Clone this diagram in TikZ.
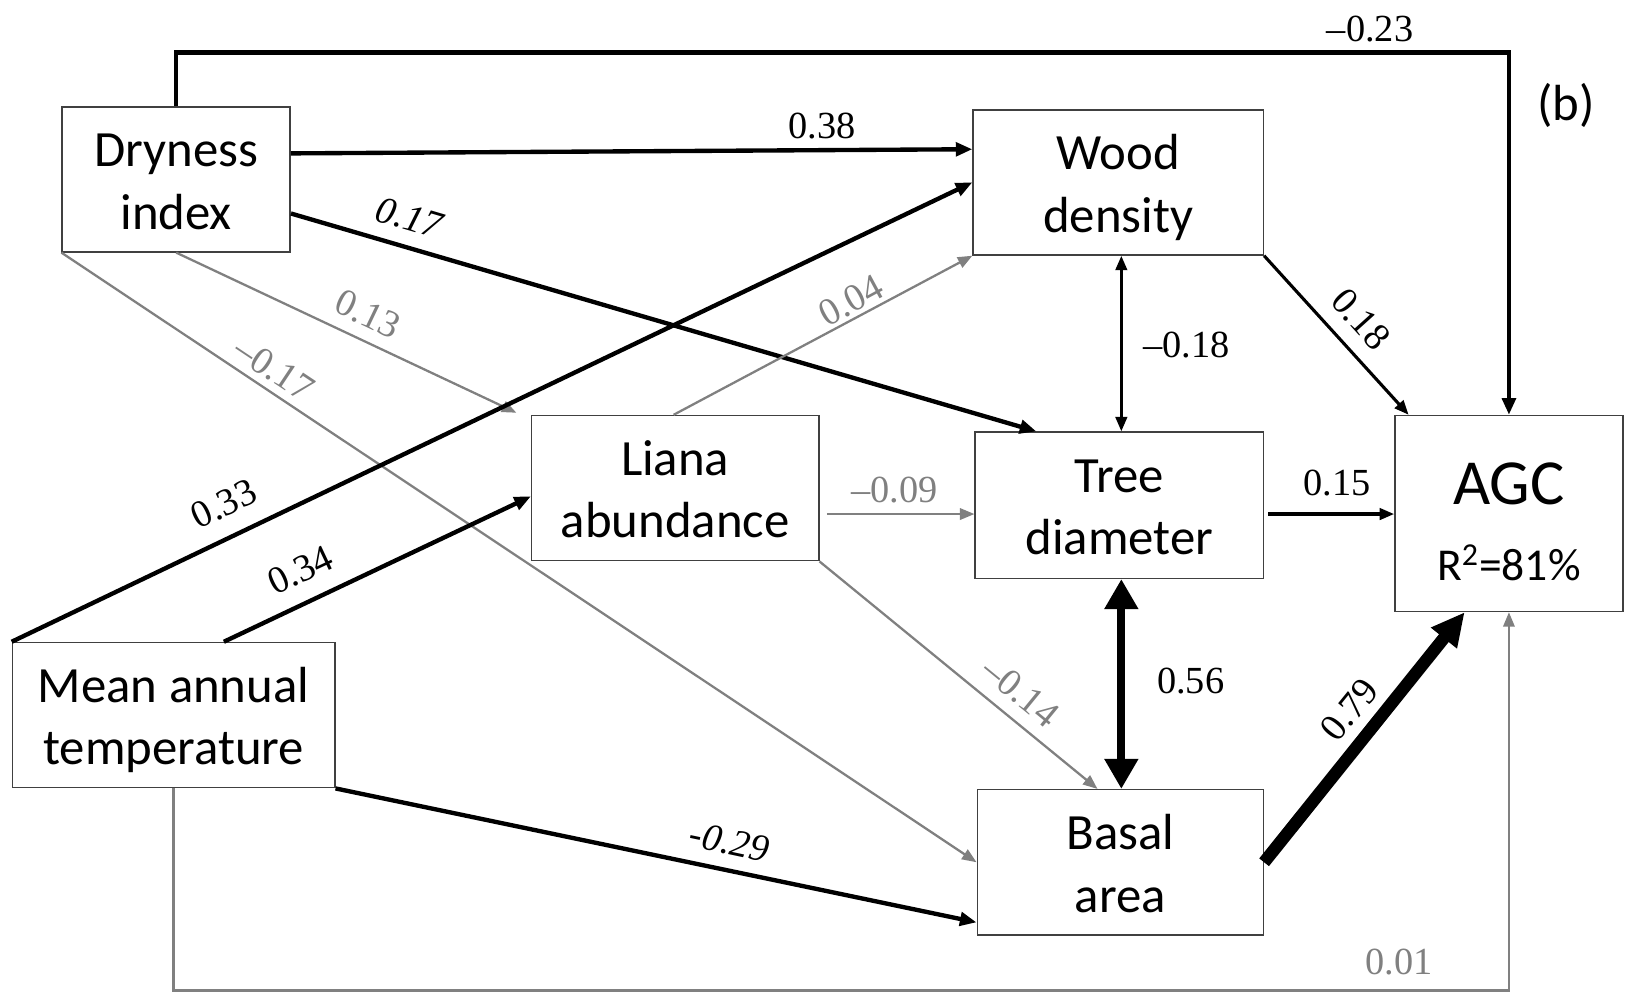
\documentclass[tikz,border=0pt]{standalone}
\usepackage{fontspec}
\setmainfont{Liberation Serif}
\newfontfamily\boxfont{Carlito}
\usetikzlibrary{arrows.meta,calc}
\newcommand\mystrut{\rule[-6pt]{0pt}{30pt}}
\definecolor{lgray}{HTML}{808080}
\definecolor{bgray}{HTML}{404040}
\begin{document}
\begin{tikzpicture}[x=0.5pt,y=-0.5pt,
 box/.style={draw=bgray,line width=0.75pt,fill=white,inner sep=0pt,align=center,font=\boxfont\fontsize{24.5}{30}\selectfont},
 thk/.style={line width=2.1pt,-{Triangle[length=8pt,width=6.5pt]}},
 med/.style={line width=1.5pt,-{Triangle[length=7pt,width=5.5pt]}},
 gry/.style={draw=lgray,line width=1.1pt,-{Triangle[length=7pt,width=5.5pt,fill=lgray]}},
 lab/.style={font=\fontsize{18.5}{20}\selectfont,inner sep=0pt},
 glab/.style={lab,text=lgray},
 ilab/.style={lab,font=\fontsize{18.5}{20}\selectfont\itshape},
]
\useasboundingbox (0,0) rectangle (1568,959);

% boxes
\node[box,minimum width=110pt,minimum height=70pt] (dry) at (170,173) {\mystrut Dryness\\\mystrut index};
\node[box,minimum width=140pt,minimum height=70pt] (wood) at (1079,176) {\mystrut Wood\\\mystrut density};
\node[box,minimum width=138.5pt,minimum height=70pt] (liana) at (651.5,471) {\mystrut Liana\\\mystrut abundance};
\node[box,minimum width=139pt,minimum height=70.5pt] (tree) at (1080,487.5) {\mystrut Tree\\\mystrut diameter};
\node[box,minimum width=110pt,minimum height=94.5pt] (agc) at (1456,495.5) {};
\node[inner sep=0pt,font=\boxfont\fontsize{31}{36}\selectfont] (agct) at (1456,467) {AGC};
\node[inner sep=0pt,font=\boxfont\fontsize{22}{26}\selectfont] (agcr) at (1456,543) {R\textsuperscript{2}=81\%};
\node[box,minimum width=155.5pt,minimum height=70pt] (mat) at (167.5,690) {\mystrut Mean annual\\\mystrut temperature};
\node[box,minimum width=138pt,minimum height=70pt] (basal) at (1081,832) {\mystrut Basal\\\mystrut area};
\node[inner sep=0pt,font=\boxfont\fontsize{24.5}{30}\selectfont] (b) at (1511,102) {(b)};

% connectors
\draw[thk] (dry.north) -- ++(0,-51.5) -| (agc.north);
\draw[thk] ($(dry.east)+(0,-25)$) -- ($(wood.west)+(0,-32)$);
\draw[thk] ($(dry.east)+(0,33)$) -- ($(tree.north)+(-80,0)$);
\draw[gry] (dry.south) -- ($(liana.north west)+(-14,-2)$);
\draw[gry] (dry.south west) -- (basal.west);
\draw[thk] (mat.north west) -- (wood.west);
\draw[thk] ($(mat.north)+(48.5,0)$) -- ($(liana.west)+(0,8)$);
\draw[gry] ($(liana.north)+(-1.5,0)$) -- (wood.south west);
\draw[gry] ($(liana.east)+(7,25)$) -- ($(tree.west)+(0,8.5)$);
\draw[gry] (liana.south east) -- ($(basal.north)+(-22,0)$);
\draw[line width=1.5pt,{Triangle[length=7pt,width=5.5pt]}-{Triangle[length=7pt,width=5.5pt]}] ($(wood.south)+(3,0)$) -- ($(tree.north)+(2,0)$);
\draw[line width=4pt,{Triangle[length=14.5pt,width=15.5pt]}-{Triangle[length=14.5pt,width=15.5pt]}] ($(tree.south)+(2,0)$) -- ($(basal.north)+(1,0)$);
\draw[med] (wood.south east) -- ($(agc.north west)+(14,0)$);
\draw[med] ($(tree.east)+(4,8.5)$) -- ($(agc.west)+(0,0.5)$);
\draw[line width=6pt,-{Triangle[length=16pt,width=15pt]}] (basal.east) -- ($(agc.south west)+(68,0)$);
\draw[gry] (mat.south) -- ++(0,195) -| (agc.south);
\draw[thk] (mat.south east) -- ($(basal.west)+(0,58)$);

% labels
\node[lab] (l23) at (1322,28) {–0.23};
\node[lab] (l38) at (793,122) {0.38};
\node[ilab,rotate=-16.5] (l17) at (395,210) {0.17};
\node[glab,rotate=-25.5] (l13) at (355,303) {0.13};
\node[glab,rotate=-33.7] (lm17) at (265,356) {–0.17};
\node[glab,rotate=28.4] (l04) at (821,290) {0.04};
\node[lab,rotate=25.5] (l33) at (216,486) {0.33};
\node[lab,rotate=25.3] (l34) at (290,550) {0.34};
\node[glab] (l09) at (863,473) {–0.09};
\node[glab,rotate=-39.3] (l14) at (985,668) {–0.14};
\node[lab] (l56) at (1149,657) {0.56};
\node[lab,rotate=51] (l79) at (1302,685) {0.79};
\node[lab,rotate=-48] (l18) at (1313,308) {0.18};
\node[lab] (l15) at (1290,466) {0.15};
\node[glab] (l01) at (1350,928) {0.01};
\node[ilab,rotate=-12] (l29) at (704,812) {-0.29};
\node[lab] (lm18) at (1145,333) {–0.18};
\end{tikzpicture}
\end{document}
